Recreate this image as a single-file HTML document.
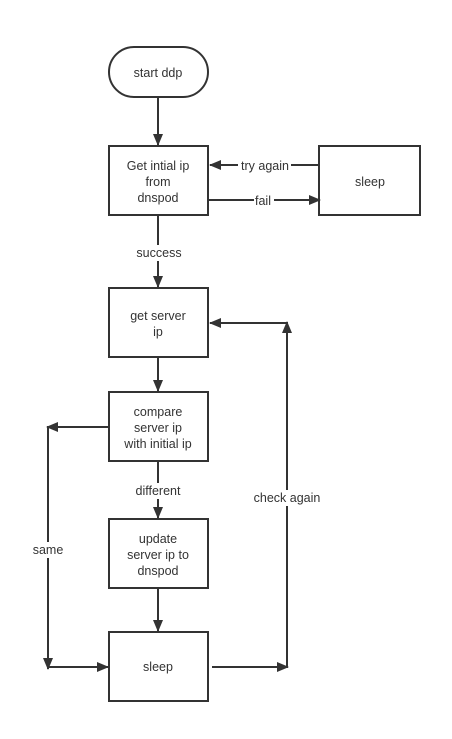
<!DOCTYPE html>
<html><head><style>html,body{margin:0;padding:0;background:#fff}</style></head><body>
<svg width="452" height="734" xmlns="http://www.w3.org/2000/svg" font-family="'Liberation Sans', 'DejaVu Sans', sans-serif" font-size="12.5" fill="#333">
<defs>
<marker id="a" markerWidth="12" markerHeight="12" refX="11" refY="6" orient="auto" markerUnits="userSpaceOnUse">
<path d="M0,1 L12,6 L0,11 Z" fill="#333"/>
</marker>
</defs>
<g stroke="#333" stroke-width="2" fill="#fff">
<rect x="109" y="47" width="99" height="50" rx="25"/>
<rect x="109" y="146" width="99" height="69"/>
<rect x="319" y="146" width="101" height="69"/>
<rect x="109" y="288" width="99" height="69"/>
<rect x="109" y="392" width="99" height="69"/>
<rect x="109" y="519" width="99" height="69"/>
<rect x="109" y="632" width="99" height="69"/>
</g>
<g stroke="#333" stroke-width="2" fill="none">
<line x1="158" y1="97" x2="158" y2="145" marker-end="url(#a)"/>
<line x1="319" y1="165" x2="210" y2="165" marker-end="url(#a)"/>
<line x1="208" y1="200" x2="320" y2="200" marker-end="url(#a)"/>
<line x1="158" y1="215" x2="158" y2="287" marker-end="url(#a)"/>
<line x1="158" y1="357" x2="158" y2="391" marker-end="url(#a)"/>
<line x1="158" y1="461" x2="158" y2="518" marker-end="url(#a)"/>
<line x1="158" y1="588" x2="158" y2="631" marker-end="url(#a)"/>
<line x1="109" y1="427" x2="47" y2="427" marker-end="url(#a)"/>
<line x1="48" y1="427" x2="48" y2="669" marker-end="url(#a)"/>
<line x1="48" y1="667" x2="108" y2="667" marker-end="url(#a)"/>
<line x1="212" y1="667" x2="288" y2="667" marker-end="url(#a)"/>
<line x1="287" y1="667" x2="287" y2="322" marker-end="url(#a)"/>
<line x1="287" y1="323" x2="210" y2="323" marker-end="url(#a)"/>
</g>
<g fill="#fff">
<rect x="238" y="157" width="53" height="16"/>
<rect x="254" y="192" width="20" height="16"/>
<rect x="133" y="245" width="50" height="16"/>
<rect x="130" y="483" width="56" height="16"/>
<rect x="31" y="542" width="34" height="16"/>
<rect x="250" y="490" width="74" height="16"/>
</g>
<g text-anchor="middle">
<text x="158" y="77">start ddp</text>
<text x="158" y="170">Get intial ip</text>
<text x="158" y="186">from</text>
<text x="158" y="202">dnspod</text>
<text x="370" y="186">sleep</text>
<text x="265" y="170">try again</text>
<text x="263" y="205">fail</text>
<text x="159" y="257">success</text>
<text x="158" y="320">get server</text>
<text x="158" y="336">ip</text>
<text x="158" y="416">compare</text>
<text x="158" y="432">server ip</text>
<text x="158" y="448">with initial ip</text>
<text x="158" y="495">different</text>
<text x="158" y="543">update</text>
<text x="158" y="559">server ip to</text>
<text x="158" y="575">dnspod</text>
<text x="158" y="671">sleep</text>
<text x="48" y="554">same</text>
<text x="287" y="502">check again</text>
</g>
</svg>
</body></html>
